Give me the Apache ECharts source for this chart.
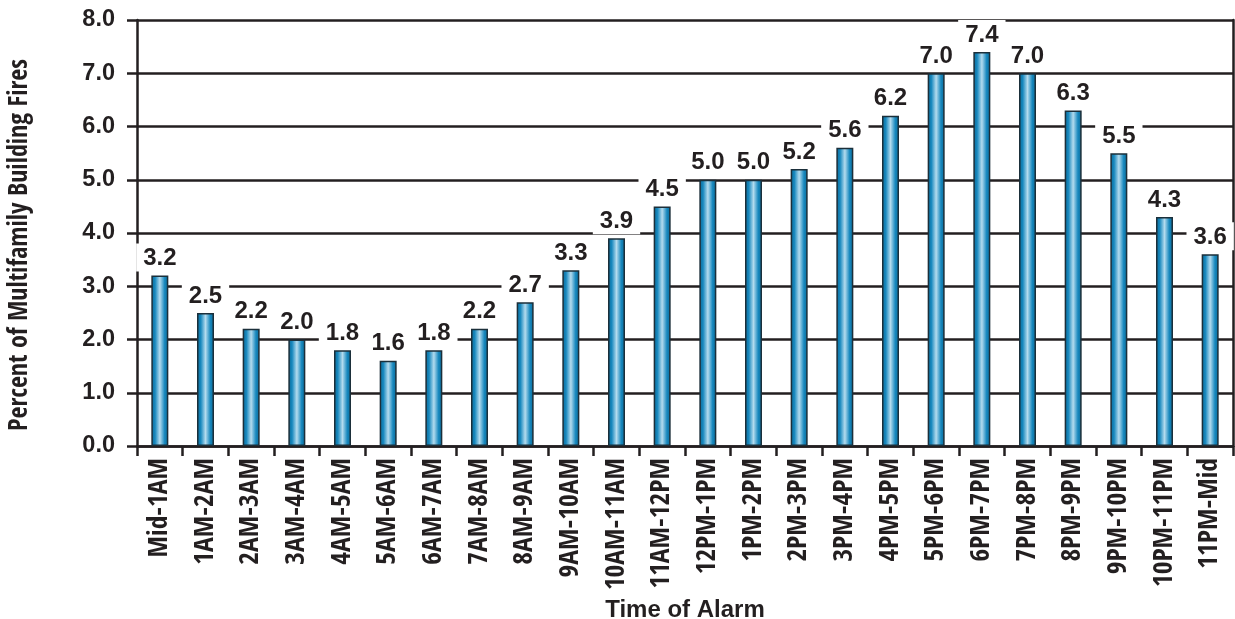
<!DOCTYPE html>
<html><head><meta charset="utf-8">
<script src="https://cdn.jsdelivr.net/npm/echarts@6/dist/echarts.min.js"></script>
<style>html,body{margin:0;padding:0;background:#fff}#c{width:1235px;height:619px}</style>
</head><body><div id="c"></div>
<script>
const categories = ["Mid-1AM","1AM-2AM","2AM-3AM","3AM-4AM","4AM-5AM","5AM-6AM","6AM-7AM","7AM-8AM","8AM-9AM","9AM-10AM","10AM-11AM","11AM-12PM","12PM-1PM","1PM-2PM","2PM-3PM","3PM-4PM","4PM-5PM","5PM-6PM","6PM-7PM","7PM-8PM","8PM-9PM","9PM-10PM","10PM-11PM","11PM-Mid"];
const values = [3.2,2.5,2.2,2.0,1.8,1.6,1.8,2.2,2.7,3.3,3.9,4.5,5.0,5.0,5.2,5.6,6.2,7.0,7.4,7.0,6.3,5.5,4.3,3.6];
const yTicks = [0,1,2,3,4,5,6,7,8];
const yName = "Percent of Multifamily Building Fires";
const xName = "Time of Alarm";

const COND = "'Open Sans Condensed', 'Roboto Condensed', 'DejaVu Sans Condensed', sans-serif";
const WIDE = "'Liberation Sans', Arial, sans-serif";
const INK = "#231f20";
const chart = echarts.init(document.getElementById('c'));
chart.setOption({
  animation: false,
  textStyle: {fontFamily: COND},
  grid: {left: 137, right: 2, top: 20, bottom: 173, containLabel: false, outerBoundsMode: 'none'},
  xAxis: {
    type: 'category', data: categories,
    name: xName, nameLocation: 'middle', nameGap: 148,
    nameTextStyle: {fontFamily: WIDE, fontWeight: 'bold', fontSize: 24, color: INK},
    axisLine: {lineStyle: {color: INK, width: 2.5}},
    axisTick: {show: true, alignWithLabel: false, length: 10, lineStyle: {color: INK, width: 2.5}},
    axisLabel: {rotate: 90, interval: 0, fontFamily: COND, fontWeight: 'bold', fontSize: 27.5, color: INK, margin: 12}
  },
  yAxis: [{
    type: 'value', min: yTicks[0], max: yTicks[yTicks.length-1], interval: 1,
    name: yName, nameLocation: 'middle', nameGap: 104, nameRotate: 90,
    nameTextStyle: {fontFamily: COND, fontWeight: 'bold', fontSize: 26, color: INK, padding: [0, 24, 0, 0]},
    axisLine: {show: true, lineStyle: {color: INK, width: 2.5}},
    axisTick: {show: true, length: 10, lineStyle: {color: INK, width: 2.5}},
    splitLine: {show: true, lineStyle: {color: INK, width: 2.5}},
    axisLabel: {formatter: v => v.toFixed(1), fontFamily: WIDE, fontWeight: 'bold', fontSize: 23.5, color: INK, margin: 22}
  },{
    type: 'value', min: 0, max: 8, interval: 1, position: 'right',
    axisLine: {show: true, lineStyle: {color: INK, width: 2.5}},
    axisTick: {show: false}, splitLine: {show: false}, axisLabel: {show: false}
  }],
  series: [{
    type: 'bar', data: values, barWidth: 17, yAxisIndex: 0,
    itemStyle: {
      color: new echarts.graphic.LinearGradient(0,0,1,0,[
        {offset:0, color:'#0a6a98'},
        {offset:0.22, color:'#1788be'},
        {offset:0.5, color:'#b3dbee'},
        {offset:0.78, color:'#1788be'},
        {offset:1, color:'#0a6a98'}
      ]),
      borderColor: '#1b2f3a', borderWidth: 1.5
    },
    label: {
      show: true, position: 'top', distance: 4,
      formatter: p => p.value.toFixed(1),
      fontFamily: WIDE, fontWeight: 'bold', fontSize: 24, color: INK,
      backgroundColor: '#fff', padding: [3, 7, 1, 7], lineHeight: 24
    },
    z: 3
  }]
});
</script></body></html>
